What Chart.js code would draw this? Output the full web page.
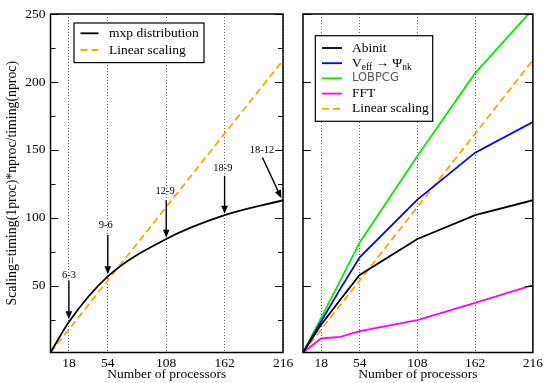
<!DOCTYPE html>
<html><head><meta charset="utf-8">
<script src="https://cdn.jsdelivr.net/npm/chart.js@4.4.0/dist/chart.umd.min.js"></script>
<style>
html,body{margin:0;padding:0;background:#fff;}
#wrap{position:relative;width:546px;height:383px;background:#fff;}
canvas{position:absolute;left:0;top:0;}
</style></head><body>
<div id="wrap"><canvas id="c1" width="546" height="383"></canvas><canvas id="c2" width="546" height="383"></canvas></div>
<script>
// ---- data ----
const procsLeft = [1, 18, 54, 108, 162, 216];
const mxpScaling = [1, 23.5, 57, 84.5, 102, 113];
const linearLeft = [1, 18, 54, 108, 162, 216];

const procsRight = [1, 18, 36, 54, 108, 162, 216];
const abinit = [1, 21.5, 40, 58, 84.5, 102, 113];
const veffPsi = [1, 24, 48, 71, 113.5, 148, 170.5];
const lobpcg = [1, 26.5, 54, 82, 145.5, 206.5, 253.5];
const fft = [1, 11.3, 12.5, 16.7, 24.8, 37.5, 50.5];
const linearRight = [1, 18, 36, 54, 108, 162, 216];

const xTicks = [18, 54, 108, 162, 216];
const yTicks = [50, 100, 150, 200, 250];
const yMinorTicks = [25, 75, 125, 175, 225];

const annLabels = ['6-3', '9-6', '12-9', '18-9', '18-12'];
const annTextPos = [[18, 58], [52, 94.6], [107, 119.5], [160.5, 136.5], [196.5, 150]];
const annArrowFrom = [[18, 54], [54, 87.5], [108, 113], [162, 131], [197, 144.5]];
const annArrowTo = [[18, 25.5], [54, 58.5], [108, 85.5], [162, 103], [214.5, 114.5]];

const xTitle = 'Number of processors';
const yTitle = 'Scaling=timing(1proc)*nproc/timing(nproc)';

// ---- helpers ----
const SERIF = "'Liberation Serif', 'Times New Roman', serif";
Chart.defaults.font.family = SERIF;
Chart.defaults.font.size = 13.5;
Chart.defaults.color = '#000';

const pts = (xs, ys) => xs.map((x, i) => ({x: x, y: ys[i]}));

function arrow(ctx, x1, y1, x2, y2) {
  const ang = Math.atan2(y2 - y1, x2 - x1), L = 8, W = 3.3;
  const bx = x2 - L * Math.cos(ang), by = y2 - L * Math.sin(ang);
  ctx.beginPath(); ctx.moveTo(x1, y1); ctx.lineTo(bx + Math.cos(ang), by + Math.sin(ang)); ctx.stroke();
  ctx.beginPath(); ctx.moveTo(x2, y2);
  ctx.lineTo(bx + W * Math.sin(ang), by - W * Math.cos(ang));
  ctx.lineTo(bx - W * Math.sin(ang), by + W * Math.cos(ang));
  ctx.closePath(); ctx.fill();
}

function makeDecor(cfg) {
  return {
    id: 'decor',
    afterDatasetsDraw(chart) {
      const {ctx, chartArea: a, scales: {x, y}} = chart;
      ctx.save();
      // inward y tick marks
      ctx.strokeStyle = '#000'; ctx.lineWidth = 1.2;
      const tick = (v, len) => {
        const py = Math.round(y.getPixelForValue(v)) + 0.5;
        ctx.beginPath();
        ctx.moveTo(a.left, py); ctx.lineTo(a.left + len, py);
        ctx.moveTo(a.right, py); ctx.lineTo(a.right - len, py);
        ctx.stroke();
      };
      yTicks.forEach(v => tick(v, 8));
      if (cfg.minor) yMinorTicks.forEach(v => tick(v, 5));
      // frame
      ctx.lineWidth = 1.5;
      ctx.strokeRect(a.left, a.top, a.right - a.left, a.bottom - a.top);
      // annotations
      if (cfg.annotations) {
        ctx.fillStyle = '#000'; ctx.strokeStyle = '#000'; ctx.lineWidth = 1.4;
        ctx.font = '10.5px ' + SERIF;
        ctx.textAlign = 'center'; ctx.textBaseline = 'middle';
        annLabels.forEach((t, i) => {
          ctx.fillText(t, x.getPixelForValue(annTextPos[i][0]), y.getPixelForValue(annTextPos[i][1]));
          arrow(ctx, x.getPixelForValue(annArrowFrom[i][0]), y.getPixelForValue(annArrowFrom[i][1]),
                     x.getPixelForValue(annArrowTo[i][0]), y.getPixelForValue(annArrowTo[i][1]));
        });
      }
      // legend
      const lg = cfg.legend;
      const bx = a.left + lg.dx, by = a.top + lg.dy;
      ctx.fillStyle = '#fff';
      ctx.fillRect(bx, by, lg.w, lg.h);
      ctx.strokeStyle = '#000'; ctx.lineWidth = 1.2;
      ctx.strokeRect(bx, by, lg.w, lg.h);
      ctx.textAlign = 'left'; ctx.textBaseline = 'middle';
      chart.data.datasets.forEach((ds, i) => {
        const ry = a.top + lg.row0 + i * lg.rowH;
        ctx.strokeStyle = ds.borderColor; ctx.lineWidth = ds.borderWidth;
        ctx.setLineDash(ds.borderDash || []);
        ctx.beginPath(); ctx.moveTo(a.left + lg.s0, ry); ctx.lineTo(a.left + lg.s1, ry); ctx.stroke();
        ctx.setLineDash([]);
        let tx = a.left + lg.tx;
        if (ds.rich) {
          ds.rich.forEach(p => {
            ctx.fillStyle = '#000';
            ctx.font = (p.sub ? '9.5px ' : '13.5px ') + SERIF;
            ctx.fillText(p.t, tx, ry + (p.sub ? 4 : 0));
            tx += ctx.measureText(p.t).width;
          });
        } else {
          ctx.fillStyle = ds.labelColor || '#000';
          ctx.font = ds.labelFont || ('13.5px ' + SERIF);
          ctx.fillText(ds.label, tx, ry);
        }
      });
      ctx.restore();
    }
  };
}

function scalesCfg(isLeft) {
  return {
    x: {
      type: 'linear', min: 1, max: 216,
      afterBuildTicks: s => { s.ticks = xTicks.map(v => ({value: v})); },
      afterFit: s => { s.height = 30.5; },
      ticks: {padding: 3, maxRotation: 0, autoSkip: false},
      grid: {display: true, drawTicks: false, color: '#666', lineWidth: 1},
      border: {display: false, dash: [1, 2]},
      title: {display: true, text: xTitle, font: {size: 13.5}, padding: {top: 0, bottom: 0.5}}
    },
    y: {
      type: 'linear', min: 1, max: 250,
      afterBuildTicks: s => { s.ticks = yTicks.map(v => ({value: v})); },
      afterFit: s => { s.width = isLeft ? 50.5 : 0; },
      ticks: {display: isLeft, padding: 5},
      grid: {display: false, drawTicks: false},
      border: {display: false},
      title: {display: isLeft, text: yTitle, font: {size: 13.8}, padding: {top: 4.5, bottom: 0}}
    }
  };
}

const common = {
  responsive: false, animation: false, devicePixelRatio: 1,
  plugins: {legend: {display: false}, tooltip: {enabled: false}},
  elements: {point: {radius: 0}}
};

new Chart(document.getElementById('c1'), {
  type: 'line',
  data: {datasets: [
    {label: 'mxp distribution', data: pts(procsLeft, mxpScaling), borderColor: '#000', borderWidth: 1.8,
     cubicInterpolationMode: 'monotone', fill: false},
    {label: 'Linear scaling', data: pts(procsLeft, linearLeft), borderColor: '#ffa500', borderWidth: 1.8,
     borderDash: [7, 4], fill: false}
  ]},
  options: Object.assign({}, common, {
    layout: {padding: {left: 0, top: 14, right: 263, bottom: 0}},
    scales: scalesCfg(true)
  }),
  plugins: [makeDecor({minor: true, annotations: true,
    legend: {dx: 23.5, dy: 9, w: 130, h: 39.6, row0: 19.3, rowH: 16.7, s0: 30, s1: 48, tx: 58.5}})]
});

new Chart(document.getElementById('c2'), {
  type: 'line',
  data: {datasets: [
    {label: 'Abinit', data: pts(procsRight, abinit), borderColor: '#000', borderWidth: 1.8, fill: false},
    {label: 'Veff → Ψnk', data: pts(procsRight, veffPsi), borderColor: '#0000ff', borderWidth: 1.8, fill: false,
     rich: [{t: 'V'}, {t: 'eff', sub: true}, {t: ' \u2192 '}, {t: '\u03A8'}, {t: 'nk', sub: true}]},
    {label: 'LOBPCG', data: pts(procsRight, lobpcg), borderColor: '#00ee00', borderWidth: 1.8, fill: false,
     labelFont: "11.5px 'DejaVu Sans', sans-serif", labelColor: '#555'},
    {label: 'FFT', data: pts(procsRight, fft), borderColor: '#ff00ff', borderWidth: 1.8, fill: false},
    {label: 'Linear scaling', data: pts(procsRight, linearRight), borderColor: '#ffa500', borderWidth: 1.8,
     borderDash: [7, 4], fill: false}
  ]},
  options: Object.assign({}, common, {
    layout: {padding: {left: 303, top: 14, right: 10.5, bottom: 0}},
    scales: scalesCfg(false)
  }),
  plugins: [makeDecor({minor: false, annotations: false,
    legend: {dx: 12.3, dy: 21.7, w: 117.4, h: 85.6, row0: 34, rowH: 15.2, s0: 19, s1: 39, tx: 49}})]
});
</script>
</body></html>
